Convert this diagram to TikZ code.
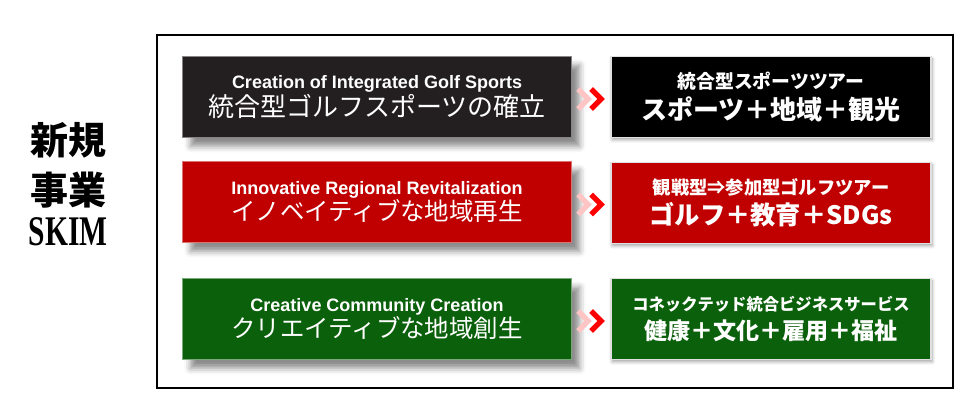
\documentclass[tikz,border=0pt]{standalone}
\usepackage{fontspec}
\setmainfont{Liberation Sans}
\newfontfamily\cjk{Noto Sans CJK JP}
\newfontfamily\titleserif{Liberation Serif}
\usetikzlibrary{calc,shadows.blur}

\definecolor{boxblack}{HTML}{231F20}
\definecolor{boxred}{HTML}{C00000}
\definecolor{boxgreen}{HTML}{0B600B}
\definecolor{chevpink}{HTML}{FFC4C4}
\definecolor{chevred}{HTML}{FF0000}

\tikzset{
  leftbox/.style={draw=#1!55!white, line width=0.9pt, fill=#1, text=white,
    minimum width=9.725cm, minimum height=2.025cm, align=center, inner sep=0pt,
    blur shadow={shadow xshift=0.2cm, shadow yshift=-0.22cm,
      shadow blur radius=0.15cm, shadow opacity=45}},
  rightbox/.style={draw=black!12, line width=1.2pt, fill=#1, text=white,
    minimum width=8cm, minimum height=2.025cm, align=center, inner sep=0pt,
    blur shadow={shadow xshift=0.03cm, shadow yshift=-0.06cm,
      shadow blur radius=0.08cm, shadow opacity=35}},
  chev/.style={line width=3.8pt, miter limit=4, draw=#1}
}

\newcommand{\engline}[1]{{\fontsize{12.8}{14}\selectfont\bfseries #1}}
\newcommand{\bigjp}[2]{{\cjk\fontsize{#1}{#1}\selectfont #2}}
\newcommand{\smalljp}[2]{{\cjk\bfseries\fontsize{#1}{#1}\selectfont #2}}

\begin{document}
\begin{tikzpicture}[x=0.025cm,y=-0.025cm]
  \useasboundingbox (0,0) rectangle (957,402);
  \def \lx {377}
  \def \rx {771}

  % frame
  \draw[line width=0.9pt] (157,35) rectangle (953,388);

  % title
  \node (t1) at (68,140) {\cjk\bfseries\fontsize{27}{27}\selectfont 新規};
  \node (t2) at (68,190) {\cjk\bfseries\fontsize{27}{27}\selectfont 事業};
  \node (t3) at (68,232) {\titleserif\bfseries\fontsize{30}{30}\selectfont\scalebox{0.7}[1]{SKIM}};

  % left column
  \node[leftbox=boxblack] (l1) at (\lx,97)
    {\engline{Creation of Integrated Golf Sports}\\[0pt] \bigjp{18.5}{統合型ゴルフスポーツの確立}};
  \node[leftbox=boxred] (l2) at (\lx,202)
    {\engline{Innovative Regional Revitalization}\\[0pt] \bigjp{17.4}{イノベイティブな地域再生}};
  \node[leftbox=boxgreen] (l3) at (\lx,319)
    {\engline{Creative Community Creation}\\[0pt] \bigjp{17.4}{クリエイティブな地域創生}};

  % right column
  \node[rightbox=black] (r1) at (\rx,97)
    {\smalljp{13.4}{統合型スポーツツアー}\\[3pt] \smalljp{18.5}{スポーツ＋地域＋観光}};
  \node[rightbox=boxred] (r2) at (\rx,203)
    {\smalljp{13}{観戦型⇒参加型ゴルフツアー}\\[3pt] \smalljp{18}{ゴルフ＋教育＋SDGs}};
  \node[rightbox=boxgreen] (r3) at (\rx,319)
    {\smalljp{11.6}{コネックテッド統合ビジネスサービス}\\[4pt] \smalljp{16.4}{健康＋文化＋雇用＋福祉}};

  % chevrons
  \foreach \r in {1,2,3}{
    \coordinate (c\r) at ($(l\r.east)!0.5!(r\r.west)+(0,2)$);
    \draw[chev=chevpink] ($(c\r)+(-13,-10)$) -- ++(10,10) -- ++(-10,10);
    \draw[chev=chevred] ($(c\r)+(0,-10)$) -- ++(10,10) -- ++(-10,10);
  }
\end{tikzpicture}
\end{document}
